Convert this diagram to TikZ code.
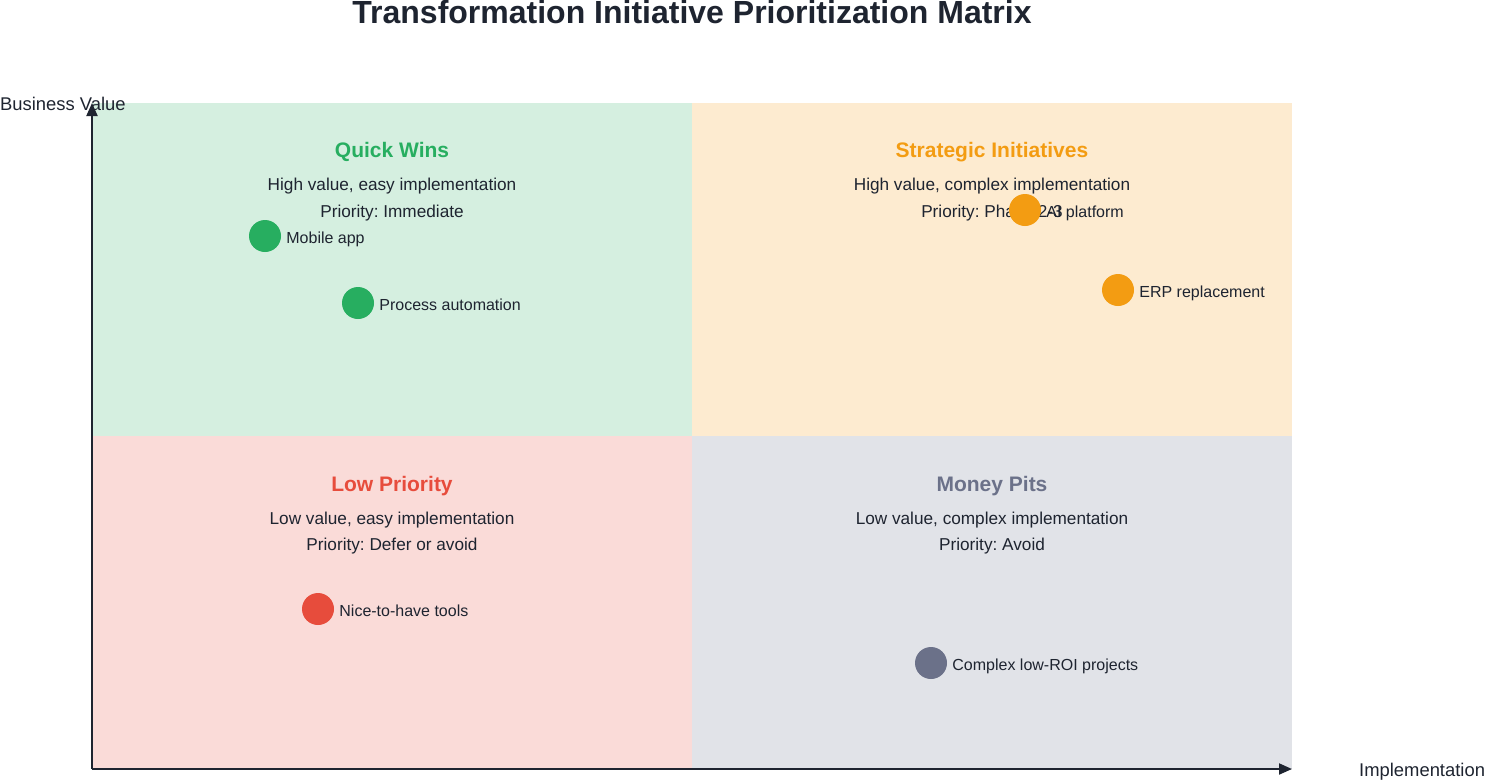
\documentclass[tikz,border=0pt]{standalone}
\usepackage{fontspec}
\setmainfont{Liberation Sans}
\usetikzlibrary{arrows.meta}
\frenchspacing
\definecolor{ink}{HTML}{1E2430}
\definecolor{qgreen}{HTML}{27AE60}
\definecolor{qgreenbg}{HTML}{D5EFE0}
\definecolor{qorange}{HTML}{F39C12}
\definecolor{qorangebg}{HTML}{FDEBD0}
\definecolor{qred}{HTML}{E74C3C}
\definecolor{qredbg}{HTML}{FADBD8}
\definecolor{qgray}{HTML}{6B7189}
\definecolor{qgraybg}{HTML}{E1E3E8}
\begin{document}
\begin{tikzpicture}[x=1pt,y=-1pt,
  qtitle/.style={anchor=base,inner sep=0pt,font=\fontsize{21}{24}\selectfont\bfseries},
  qdesc/.style={anchor=base,inner sep=0pt,text=ink,font=\fontsize{17.2}{20}\selectfont},
  dot/.style={circle,inner sep=0pt,minimum size=32pt,draw=none},
  lbl/.style={anchor=base west,inner sep=0pt,text=ink,font=\fontsize{16}{19}\selectfont},
  axlbl/.style={anchor=base west,inner sep=0pt,text=ink,font=\fontsize{18.4}{21}\selectfont},
  axis/.style={draw=ink,line width=2pt,-{Triangle[length=13pt,width=11pt]}}]
\useasboundingbox (0,0) rectangle (1485,780);
% quadrants
\fill[qgreenbg] (92,103) rectangle (692,436);
\fill[qorangebg] (692,103) rectangle (1292,436);
\fill[qredbg] (92,436) rectangle (692,769);
\fill[qgraybg] (692,436) rectangle (1292,769);
% title
\node[anchor=base,inner sep=0pt,text=ink,font=\fontsize{32}{36}\selectfont\bfseries] (title) at (692,23) {Transformation Initiative Prioritization Matrix};
% axes
\coordinate (origin) at (92,769);
\coordinate (ytop) at (92,103);
\coordinate (xend) at (1292,769);
\draw[axis] (origin) -- (ytop);
\draw[axis] (origin) -- (xend);
\node[axlbl] (ylab) at (0,110) {Business Value};
\node[axlbl] (xlab) at (1359,776) {Implementation};
% quadrant texts
\node[qtitle,text=qgreen] (qwt) at (392,157) {Quick Wins};
\node[qdesc] (qwd1) at (392,190) {High value, easy implementation};
\node[qdesc] (qwd2) at (392,217) {Priority: Immediate};
\node[qtitle,text=qorange] (sit) at (992,157) {Strategic Initiatives};
\node[qdesc] (sid1) at (992,190) {High value, complex implementation};
\node[qdesc] (sid2) at (992,217) {Priority: Phase 2-3};
\node[qtitle,text=qred] (lpt) at (392,491) {Low Priority};
\node[qdesc] (lpd1) at (392,524) {Low value, easy implementation};
\node[qdesc] (lpd2) at (392,550) {Priority: Defer or avoid};
\node[qtitle,text=qgray] (mpt) at (992,491) {Money Pits};
\node[qdesc] (mpd1) at (992,524) {Low value, complex implementation};
\node[qdesc] (mpd2) at (992,550) {Priority: Avoid};
% items
\node[dot,fill=qgreen] (d1) at (265,236) {};
\node[lbl] (l1) at ([xshift=5pt,yshift=-7pt]d1.east) {Mobile app};
\node[dot,fill=qgreen] (d2) at (358,303) {};
\node[lbl] (l2) at ([xshift=5pt,yshift=-7pt]d2.east) {Process automation};
\node[dot,fill=qorange] (d3) at (1025,210) {};
\node[lbl] (l3) at ([xshift=5pt,yshift=-7pt]d3.east) {AI platform};
\node[dot,fill=qorange] (d4) at (1118,290) {};
\node[lbl] (l4) at ([xshift=5pt,yshift=-7pt]d4.east) {ERP replacement};
\node[dot,fill=qred] (d5) at (318,609) {};
\node[lbl] (l5) at ([xshift=5pt,yshift=-7pt]d5.east) {Nice-to-have tools};
\node[dot,fill=qgray] (d6) at (931,663) {};
\node[lbl] (l6) at ([xshift=5pt,yshift=-7pt]d6.east) {Complex low-ROI projects};
\end{tikzpicture}
\end{document}
